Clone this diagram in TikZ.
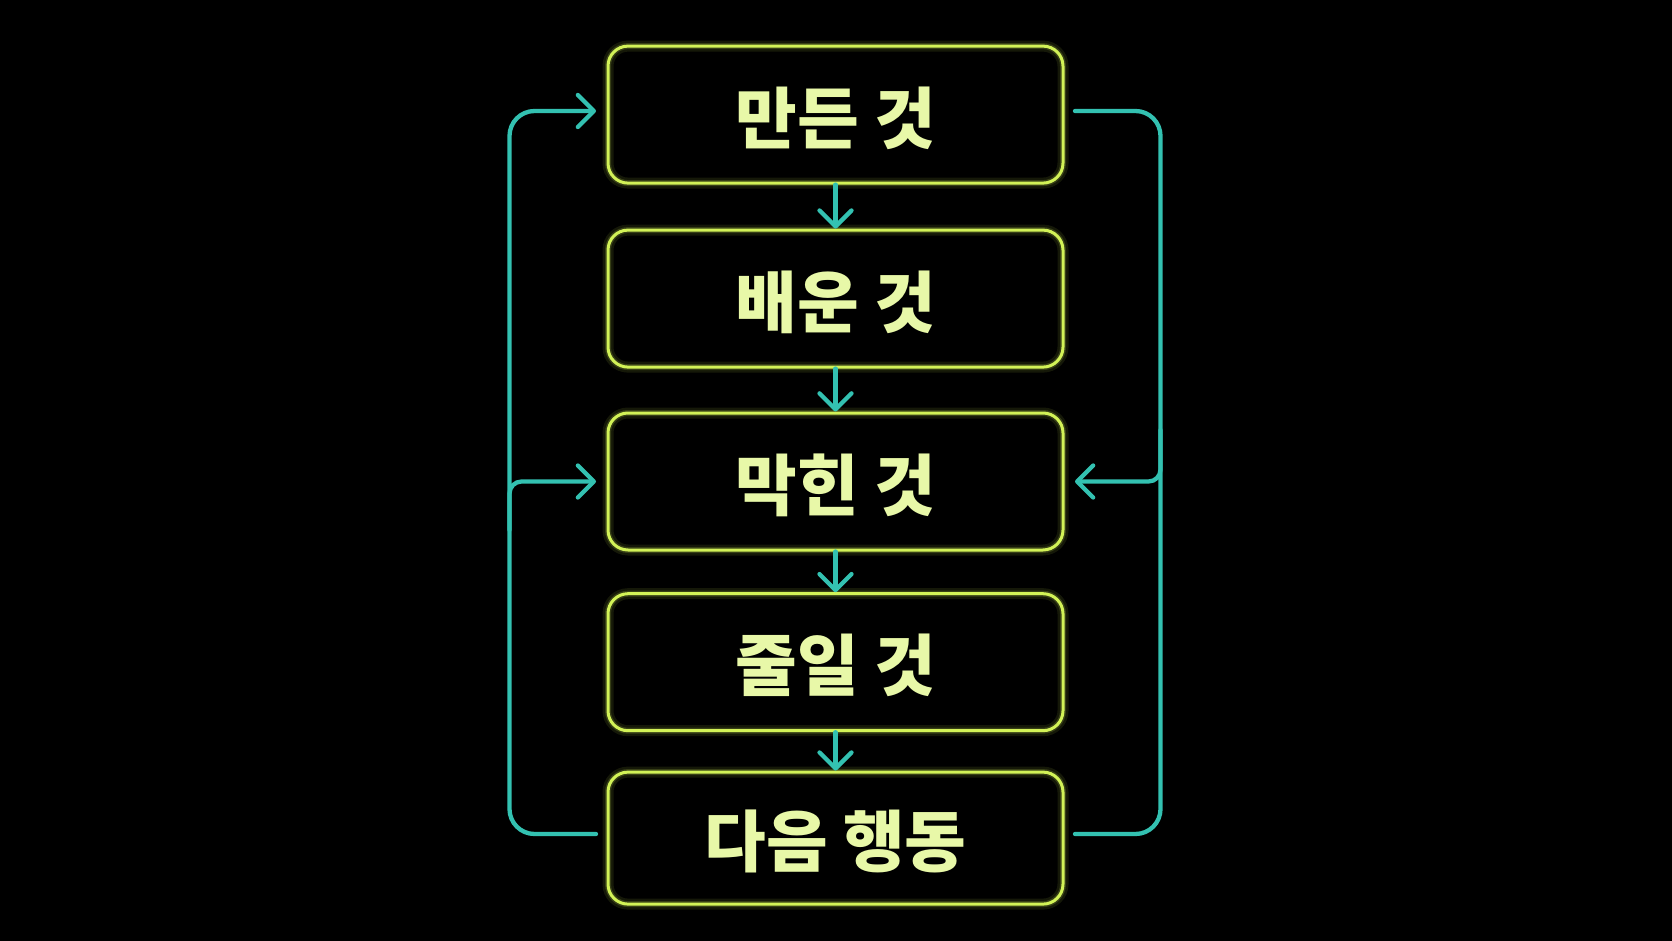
\documentclass[tikz,border=0pt]{standalone}
\usepackage{fontspec}
\newfontfamily\kr{Noto Sans CJK KR}
\usetikzlibrary{arrows.meta}
\definecolor{boxc}{HTML}{D2F257}
\definecolor{txtc}{HTML}{E8F8A8}
\definecolor{tealc}{HTML}{33C1B1}
\newcommand{\boxtext}[1]{\raisebox{-3.5pt}[\height][\depth]{#1}}
\begin{document}
\begin{tikzpicture}[x=1pt,y=-1pt,
  stepbox/.style={draw=boxc, line width=3pt, rounded corners=20pt,
    minimum width=455pt, minimum height=137pt, inner sep=0pt, text=txtc,
    font=\kr\bfseries\fontsize{67}{67}\selectfont,
    preaction={draw=boxc, line width=11pt, opacity=0.10},
    preaction={draw=boxc, line width=6pt, opacity=0.18}},
  tline/.style={draw=tealc, line width=4.3pt, line cap=round},
  flow/.style={tline, -{Straight Barb[length=16pt,width=32pt,round]}}]
\fill[black] (0,0) rectangle (1672,941);
\useasboundingbox (0,0) rectangle (1672,941);

\node[stepbox] (b1) at (835.5,114.6) {\boxtext{만든 것}};
\node[stepbox] (b2) at (835.5,298.6) {\boxtext{배운 것}};
\node[stepbox] (b3) at (835.5,481.5) {\boxtext{막힌 것}};
\node[stepbox] (b4) at (835.5,662.2) {\boxtext{줄일 것}};
\node[stepbox, minimum height=132pt] (b5) at (835.5,838.1) {\boxtext{다음 행동}};

\draw[flow] (b1.south) -- (b2.north);
\draw[flow] (b2.south) -- (b3.north);
\draw[flow] (b3.south) -- (b4.north);
\draw[flow] (b4.south) -- (b5.north);

\coordinate (lt) at (596,111);
\coordinate (lm) at (596,481.5);
\coordinate (lb) at (596,834);
\coordinate (rt) at (1075,111);
\coordinate (rm) at (1075,481.5);
\coordinate (rb) at (1075,834);

\draw[flow, rounded corners=25pt] (lb) -- (509.5,834) -- (509.5,111) -- (lt);
\draw[flow, rounded corners=12pt] (509.5,530) -- (509.5,481.5) -- (lm);
\draw[tline, rounded corners=25pt] (rt) -- (1160.5,111) -- (1160.5,834) -- (rb);
\draw[flow, rounded corners=12pt] (1160.5,430) -- (1160.5,481.5) -- (rm);
\end{tikzpicture}
\end{document}
